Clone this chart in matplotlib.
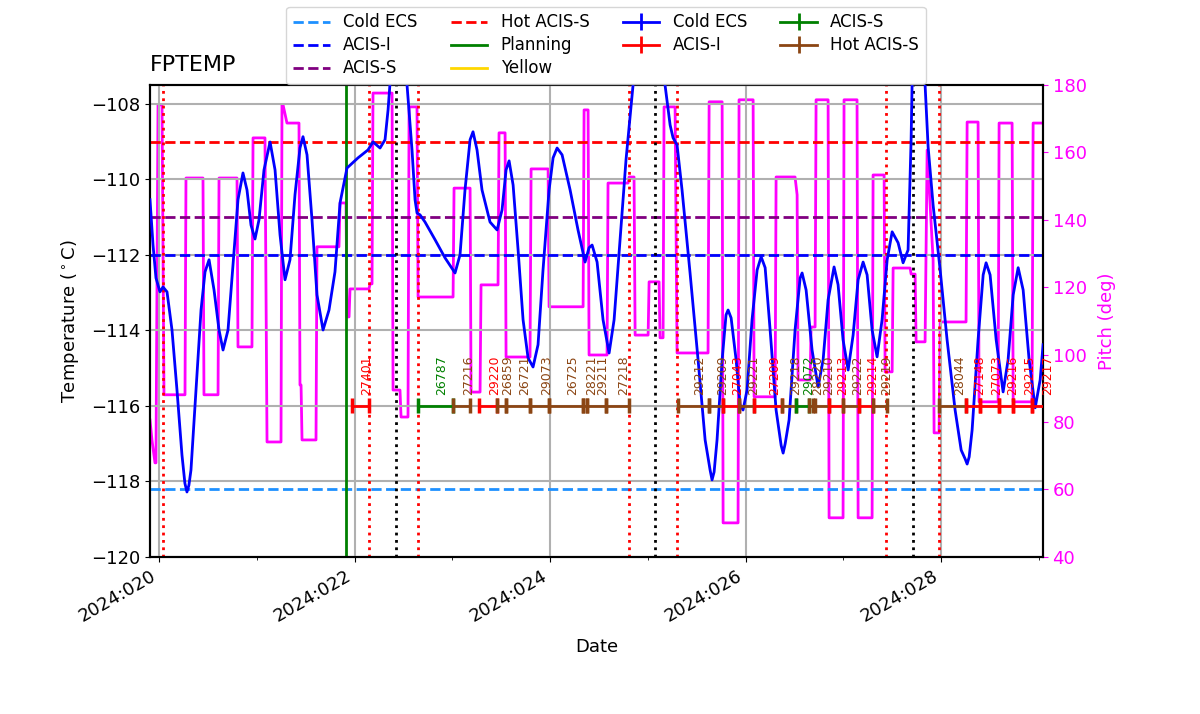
import matplotlib
matplotlib.use("Agg")
import matplotlib.pyplot as plt
from matplotlib.ticker import FuncFormatter, MultipleLocator

plt.rcParams['font.family'] = ['DejaVu Sans']
plt.rcParams['font.size'] = 13

# ---------------- data ----------------
temp_days = [19.908, 19.939, 19.969, 20.010, 20.041, 20.082, 20.133, 20.184, 20.235, 20.265, 20.286,
             20.306, 20.327, 20.379, 20.430, 20.471, 20.512, 20.563, 20.614, 20.655, 20.706, 20.757,
             20.808, 20.859, 20.900, 20.941, 20.982, 21.023, 21.074, 21.136, 21.187, 21.238,
             21.289, 21.340, 21.391, 21.442, 21.473, 21.514, 21.565, 21.616, 21.678, 21.739,
             21.800, 21.852, 21.923, 22.036, 22.138, 22.189, 22.261, 22.312, 22.343, 22.373,
             22.445, 22.537, 22.568, 22.588, 22.619, 22.639, 22.670, 22.721, 22.824, 22.926,
             23.028, 23.079, 23.130, 23.182, 23.212, 23.253, 23.304, 23.386, 23.458, 23.509,
             23.550, 23.581, 23.622, 23.673, 23.724, 23.775, 23.826, 23.877, 23.928, 23.990,
             24.031, 24.072, 24.123, 24.205, 24.286, 24.358, 24.399, 24.430, 24.481, 24.542,
             24.604, 24.655, 24.716, 24.777, 24.849, 25.003, 25.176, 25.228, 25.258, 25.299,
             25.350, 25.432, 25.514, 25.586, 25.637, 25.657, 25.678, 25.708, 25.760, 25.800, 25.821,
             25.852, 25.903, 25.944, 25.974, 26.015, 26.066, 26.118, 26.159, 26.200, 26.251, 26.312,
             26.364, 26.384, 26.405, 26.445, 26.506, 26.558, 26.578, 26.619, 26.680, 26.742, 26.793,
             26.844, 26.905, 26.946, 26.997, 27.049, 27.100, 27.151, 27.202, 27.243, 27.294, 27.345,
             27.396, 27.448, 27.499, 27.560, 27.611, 27.662, 27.693, 27.703, 27.765, 27.836,
             27.867, 27.918, 27.990, 28.061, 28.143, 28.205, 28.245, 28.266, 28.287, 28.317, 28.378,
             28.430, 28.460, 28.501, 28.563, 28.634, 28.685, 28.737, 28.788, 28.839, 28.900, 28.962,
             29.013, 29.043]
temp_vals = [-110.54, -111.74, -112.61, -112.98, -112.85, -112.98, -113.99, -115.58, -117.30, -118.05, -118.28,
             -118.10, -117.70, -115.58, -113.46, -112.45, -112.13, -112.93, -113.99, -114.52, -113.99, -112.26,
             -110.54, -109.83, -110.28, -111.21, -111.58, -111.07, -109.75, -109.01, -109.75, -111.47,
             -112.66, -112.13, -110.41, -109.17, -108.87, -109.35, -111.07, -113.06, -113.99, -113.46,
             -112.45, -110.62, -109.70, -109.43, -109.22, -109.01, -109.17, -108.95, -108.16, -107.10,
             -106.00, -107.50, -108.56, -109.22, -110.54, -110.89, -110.94, -111.13, -111.60, -112.08,
             -112.48, -112.00, -110.28, -108.95, -108.74, -109.22, -110.28, -111.13, -111.34, -110.81,
             -109.75, -109.51, -110.15, -111.87, -113.72, -114.73, -114.97, -114.38, -112.40, -110.28,
             -109.43, -109.17, -109.35, -110.28, -111.34, -112.19, -111.81, -111.74, -112.19, -113.72,
             -114.60, -113.72, -111.60, -109.48, -107.50, -105.50, -107.50, -108.56, -108.90, -109.09,
             -110.28, -112.48, -114.78, -116.90, -117.70, -117.96, -117.75, -116.90, -114.78, -113.59, -113.46,
             -113.67, -114.78, -115.97, -116.11, -115.58, -113.72, -112.40, -112.05, -112.34, -113.99, -116.11,
             -117.05, -117.25, -117.00, -116.37, -113.99, -112.61, -112.48, -112.93, -114.52, -115.50, -114.78,
             -113.19, -112.32, -112.79, -114.25, -115.05, -114.12, -112.66, -112.19, -112.53, -113.99, -114.70,
             -113.72, -112.13, -111.39, -111.68, -112.21, -111.87, -108.95, -107.50, -106.00, -107.50,
             -109.14, -110.68, -112.40, -114.25, -116.11, -117.17, -117.40, -117.54, -117.35, -116.64, -114.25,
             -112.53, -112.21, -112.53, -114.25, -115.63, -114.78, -113.06, -112.34, -112.93, -114.78, -116.05,
             -115.31, -114.38]

pitch_days = [19.908, 19.928, 19.959, 19.969, 19.990, 20.031, 20.051, 20.266, 20.276, 20.450,
              20.460, 20.604, 20.614, 20.798, 20.808, 20.951, 20.962, 21.084, 21.105, 21.248,
              21.258, 21.269, 21.309, 21.432, 21.442, 21.453, 21.463, 21.606, 21.616, 21.841,
              21.852, 21.913, 21.923, 21.944, 21.954, 22.148, 22.159, 22.179, 22.189, 22.384,
              22.394, 22.465, 22.476, 22.547, 22.558, 22.639, 22.650, 23.008, 23.018, 23.182,
              23.192, 23.284, 23.294, 23.468, 23.478, 23.540, 23.550, 23.795, 23.806, 23.980,
              23.990, 24.338, 24.348, 24.389, 24.399, 24.583, 24.593, 24.798, 24.808, 24.859,
              24.870, 25.003, 25.013, 25.115, 25.125, 25.156, 25.166, 25.279, 25.299, 25.616,
              25.627, 25.760, 25.770, 25.923, 25.933, 26.077, 26.087, 26.302, 26.312, 26.506,
              26.527, 26.537, 26.660, 26.670, 26.711, 26.721, 26.844, 26.854, 26.997, 27.007,
              27.140, 27.151, 27.294, 27.304, 27.417, 27.427, 27.499, 27.509, 27.683, 27.693,
              27.734, 27.744, 27.836, 27.857, 27.918, 27.928, 27.979, 27.990, 28.255, 28.266,
              28.378, 28.388, 28.583, 28.593, 28.726, 28.737, 28.930, 28.941, 29.043]
pitch_vals = [80.6, 74.7, 67.9, 67.9, 174.1, 174.1, 88.1, 88.1, 152.4, 152.4,
              88.1, 88.1, 152.4, 152.4, 102.3, 102.3, 164.3, 164.3, 74.1, 74.1,
              174.1, 174.1, 168.7, 168.7, 91.0, 91.0, 74.7, 74.7, 132.0, 132.0,
              145.0, 145.0, 111.2, 111.2, 119.5, 119.5, 121.0, 121.0, 177.6, 177.6,
              89.5, 89.5, 81.5, 81.5, 173.5, 173.5, 117.1, 117.1, 149.4, 149.4,
              88.9, 88.9, 120.7, 120.7, 165.8, 165.8, 99.3, 99.3, 155.1, 155.1,
              114.2, 114.2, 172.6, 172.6, 99.9, 99.9, 150.9, 150.9, 152.7, 152.7,
              105.8, 105.8, 121.6, 121.6, 105.0, 105.0, 173.5, 173.5, 100.5, 100.5,
              175.0, 175.0, 50.1, 50.1, 175.6, 175.6, 87.5, 87.5, 152.7, 152.7,
              147.4, 92.5, 92.5, 108.2, 108.2, 175.6, 175.6, 51.6, 51.6, 175.6,
              175.6, 51.6, 51.6, 153.3, 153.3, 94.9, 94.9, 125.7, 125.7, 123.9,
              123.9, 103.8, 103.8, 160.7, 128.1, 76.8, 76.8, 109.7, 109.7, 169.0,
              169.0, 86.0, 86.0, 168.7, 168.7, 86.0, 86.0, 168.7, 168.7]

limit_names = ["Cold ECS", "ACIS-I", "ACIS-S", "Hot ACIS-S", "Planning", "Yellow"]
limit_values = [-118.2, -112.0, -111.0, -109.0, -90.0, -80.0]
limit_colors = ["dodgerblue", "blue", "purple", "red", "green", "gold"]
limit_styles = ["--", "--", "--", "--", "-", "-"]

load_start = 21.913
radzone_lines = [20.04, 22.15, 22.65, 24.81, 25.30, 27.44, 27.98]
perigee_lines = [22.42, 25.07, 27.71]

obsids = ["27401", "26787", "27216", "29220", "26859", "26721", "29073", "26725", "28221",
          "29211", "27218", "29212", "29209", "27043", "29221", "27209", "29218", "29072",
          "28220", "29210", "29213", "29222", "29214", "29219", "28044", "27148", "27073",
          "29216", "29215", "29217"]
obs_start = [21.971, 22.647, 23.011, 23.270, 23.458, 23.550, 23.795, 23.993, 24.341,
             24.378, 24.573, 25.306, 25.630, 25.766, 25.933, 26.090, 26.370, 26.513,
             26.650, 26.711, 26.857, 27.000, 27.158, 27.301, 27.982, 28.255, 28.399,
             28.596, 28.739, 28.934]
obs_stop = [22.151, 23.011, 23.182, 23.458, 23.550, 23.795, 23.993, 24.341, 24.378,
            24.573, 24.808, 25.630, 25.766, 25.933, 26.090, 26.370, 26.513, 26.650,
            26.687, 26.857, 27.000, 27.158, 27.301, 27.444, 28.255, 28.399, 28.596,
            28.739, 28.934, 29.115]
obs_type = ["ACIS-I", "ACIS-S", "Hot ACIS-S", "ACIS-I", "Hot ACIS-S", "Hot ACIS-S", "Hot ACIS-S",
            "Hot ACIS-S", "Hot ACIS-S", "Hot ACIS-S", "Hot ACIS-S", "Hot ACIS-S", "Hot ACIS-S",
            "ACIS-I", "Hot ACIS-S", "ACIS-I", "Hot ACIS-S", "ACIS-S", "Hot ACIS-S", "Hot ACIS-S",
            "ACIS-I", "Hot ACIS-S", "ACIS-I", "Hot ACIS-S", "Hot ACIS-S", "ACIS-I", "ACIS-I",
            "ACIS-I", "ACIS-I", "ACIS-I"]
type_names = ["Cold ECS", "ACIS-I", "ACIS-S", "Hot ACIS-S"]
type_colors = ["blue", "red", "green", "saddlebrown"]
obs_ypos = -116.0

# ---------------- figure ----------------
fig = plt.figure(figsize=(12, 7.14), dpi=100)
ax = fig.add_axes([0.125, 0.22, 0.744, 0.661])
ax2 = ax.twinx()

ax.plot(temp_days, temp_vals, color="blue", lw=2, zorder=5, solid_joinstyle="round")
ax2.plot(pitch_days, pitch_vals, color="magenta", lw=2)

handles = []
for name, val, col, ls in zip(limit_names, limit_values, limit_colors, limit_styles):
    h = ax.axhline(val, color=col, ls=ls, lw=2, label=name)
    handles.append(h)

ax.axvline(load_start, color="green", lw=2)
for d in radzone_lines:
    ax.axvline(d, color="red", ls=":", lw=2)
for d in perigee_lines:
    ax.axvline(d, color="black", ls=":", lw=2)

type_color = dict(zip(type_names, type_colors))
for name, t0, t1, tp in zip(obsids, obs_start, obs_stop, obs_type):
    c = type_color[tp]
    ax.errorbar([t0, t1], [obs_ypos, obs_ypos], yerr=0.2, color=c, lw=2,
                capsize=0, elinewidth=2.5, zorder=6)
    ax.text(0.5 * (t0 + t1), obs_ypos + 0.3, name, rotation=90, color=c,
            fontsize=9, ha="left", va="bottom", zorder=7)

for name, col in zip(type_names, type_colors):
    h = ax.errorbar([], [], yerr=[], color=col, lw=2, elinewidth=2, label=name)
    handles.append(h)

ax.set_xlim(19.908, 29.04)
ax.set_ylim(-120, -107.5)
ax2.set_ylim(40, 180)

ax.xaxis.set_major_locator(MultipleLocator(2))
ax.xaxis.set_minor_locator(MultipleLocator(1))
ax.xaxis.set_major_formatter(FuncFormatter(lambda v, p: "2024:%03d" % int(round(v))))
ax.yaxis.set_major_locator(MultipleLocator(2))
ax.tick_params(axis="x", labelrotation=30)
plt.setp(ax.get_xticklabels(), ha="right", rotation_mode="default")

ax.grid(True, color="#b0b0b0", lw=1.5)
ax.set_axisbelow(True)
ax.set_xlabel("Date", labelpad=9)
ax.set_ylabel("Temperature ($^\\circ$C)", labelpad=7)
ax.set_title("FPTEMP", loc="left", fontsize=16, pad=10)

ax2.set_ylabel("Pitch (deg)", color="magenta", labelpad=8)
ax2.tick_params(axis="y", colors="magenta")
ax2.yaxis.set_major_locator(MultipleLocator(20))

ax.set_zorder(ax2.get_zorder() + 1)
ax.patch.set_visible(False)

for sp in list(ax.spines.values()) + list(ax2.spines.values()):
    sp.set_linewidth(1.5)

fig.legend(handles=handles, loc="upper center", bbox_to_anchor=(0.505, 1.0),
           borderaxespad=0.4, ncol=4, fontsize=12, handlelength=2.2, labelspacing=0.3)

fig.savefig("out.png", dpi=100)
